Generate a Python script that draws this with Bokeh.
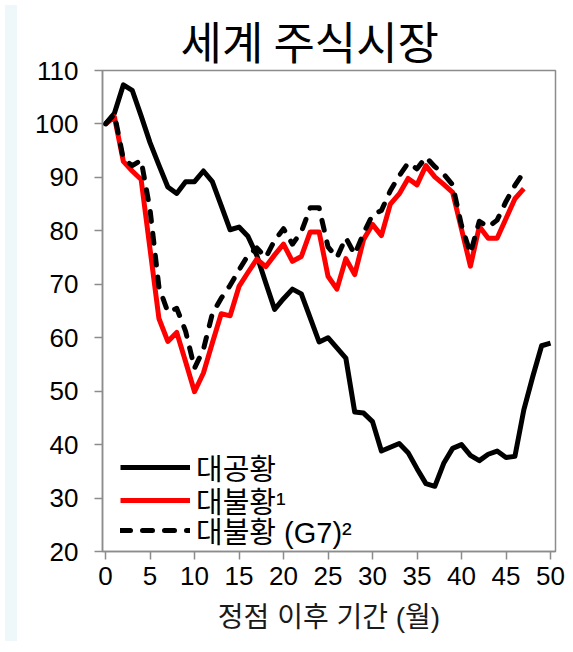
from bokeh.plotting import figure
from bokeh.models import Range1d, Legend, LegendItem, Div, FixedTicker, Title
from bokeh.layouts import row
from bokeh.embed import file_html
from bokeh.resources import INLINE

# months after the peak
months_gd = list(range(51))
months_gr = list(range(48))

great_depression = [100, 102, 107.3, 106.3, 101.5, 96.5, 92.3, 88.2, 87, 89.2,
                    89.2, 91.2, 89.2, 84.7, 80.2, 80.7, 79, 75.4, 70.3, 65.3,
                    67.3, 69.1, 68.2, 63.7, 59.2, 60, 58.1, 56.2, 46.1, 45.9,
                    44.3, 38.8, 39.5, 40.2, 38.5, 35.5, 32.7, 32.2, 36.5, 39.3,
                    40, 38, 37, 38.2, 38.8, 37.6, 37.8, 46.5, 52.7, 58.5, 59]

great_recession = [100, 101.3, 93, 91.2, 89.6, 76.6, 63.6, 59.3, 61, 55.5,
                   49.9, 53.4, 59, 64.5, 64.1, 69.6, 72.2, 74.7, 73.3, 75.5,
                   77.5, 74.3, 75.2, 79.8, 79.8, 71.5, 69.1, 74.8, 71.8, 78.4,
                   81.2, 79.1, 85, 86.9, 89.8, 88.6, 92.2, 90.1, 88.7, 87.2,
                   80.3, 73.4, 80.8, 78.6, 78.6, 82.3, 86, 87.9]

great_recession_g7 = [100, 101.8, 93.5, 92.2, 93.2, 84, 69.5, 64.8, 65.5, 61.2,
                      54.3, 57.8, 64.5, 67.4, 69.8, 72.7, 75.4, 76.8, 75, 78.2,
                      80.4, 77.5, 79.8, 84.3, 84.3, 77, 75, 78.7, 75.6, 79.6,
                      83, 83.8, 87.5, 90.3, 92.7, 91.6, 93.8, 92, 90.6, 88.6,
                      81, 75.8, 81.8, 80.7, 82, 85.5, 88.5, 91]

series_labels = ["대공황", "대불황¹", "대불황 (G7)²"]
x_ticks = list(range(0, 51, 5))
y_ticks = list(range(20, 111, 10))

title_text = "세계 주식시장"
x_label = "정점 이후 기간 (월)"

LATIN = "'Liberation Sans', 'Noto Sans CJK KR'"
KR = "'Noto Sans CJK KR'"

p = figure(width=545, height=636, output_backend="svg", toolbar_location=None,
           x_range=Range1d(-0.34, 50.56), y_range=Range1d(20, 110),
           min_border_left=80, min_border_right=12, min_border_top=70,
           min_border_bottom=85)
p.title = Title(text=title_text, align="left", offset=78,
                vertical_align="top",
                text_font=KR, text_font_size="45px", text_font_style="normal",
                text_color="#000000", standoff=-9)

p.xgrid.visible = False
p.ygrid.visible = False
p.outline_line_color = "#8c8c8c"
p.outline_line_width = 1.5

for ax in (p.xaxis[0], p.yaxis[0]):
    ax.axis_line_color = "#8c8c8c"
    ax.axis_line_width = 1.5
    ax.major_tick_line_color = "#8c8c8c"
    ax.major_tick_line_width = 1.5
    ax.major_tick_out = 8
    ax.major_tick_in = 0
    ax.minor_tick_line_color = None
    ax.major_label_text_font = LATIN
    ax.major_label_text_font_size = "26px"
    ax.major_label_text_color = "#000000"

p.xaxis[0].ticker = FixedTicker(ticks=x_ticks)
p.yaxis[0].ticker = FixedTicker(ticks=y_ticks)
p.xaxis[0].major_label_standoff = 7
p.yaxis[0].major_label_standoff = 16
p.xaxis[0].axis_label = x_label
p.xaxis[0].axis_label_text_font = LATIN
p.xaxis[0].axis_label_text_font_size = "28px"
p.xaxis[0].axis_label_text_font_style = "normal"
p.xaxis[0].axis_label_text_color = "#1a1a1a"
p.xaxis[0].axis_label_standoff = 14

r1 = p.line(months_gd, great_depression, line_color="#000000", line_width=5,
            line_join="round")
r2 = p.line(months_gr, great_recession, line_color="#ff0000", line_width=5,
            line_join="round")
r3 = p.line(months_gr, great_recession_g7, line_color="#000000", line_width=5,
            line_dash="10 12", line_cap="round", line_join="round")

legend_rows = [(series_labels[0], r1, 63), (series_labels[1], r2, 30),
               (series_labels[2], r3, 0)]
for label, rend, ypos in legend_rows:
    lg = Legend(items=[LegendItem(label=label, renderers=[rend])],
                location=(18, ypos), orientation="vertical",
                glyph_width=70, glyph_height=34, label_height=34,
                label_standoff=6, spacing=0, padding=0, margin=0,
                border_line_alpha=0, background_fill_alpha=0,
                label_text_font=LATIN, label_text_font_size="29px",
                label_text_color="#000000")
    p.add_layout(lg, "center")

strip = Div(width=12, height=636, styles={"background-color": "#eef7fa"})
layout = row(strip, p, spacing=0)

open("out.html", "w").write(file_html(layout, INLINE))
